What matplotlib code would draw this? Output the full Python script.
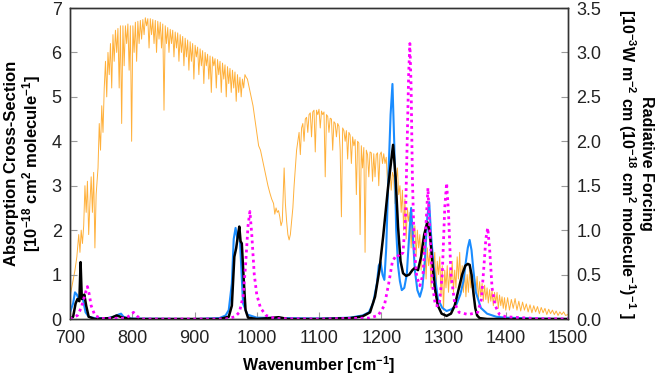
#!/usr/bin/env python3
import numpy as np
import matplotlib as mpl
mpl.use('Agg')
import matplotlib.pyplot as plt

plt.rcParams['font.family'] = ['Liberation Sans', 'DejaVu Sans']
plt.rcParams['mathtext.fontset'] = 'custom'
plt.rcParams['mathtext.rm'] = 'Liberation Sans'
plt.rcParams['mathtext.bf'] = 'Liberation Sans:bold'
plt.rcParams['mathtext.default'] = 'bf'

# radiative forcing spectrum (right axis)
rf_wn = [700, 704, 708, 711, 714, 716, 718, 720, 722, 724, 726, 728, 730, 732, 734, 736, 738, 740,
         742, 745, 747, 749, 751, 753, 755, 757, 759, 761, 763, 765, 767, 769, 771, 773, 775, 777,
         779, 781, 783, 785, 787, 789, 791, 793, 795, 797, 799, 801, 803, 805, 807, 809, 811, 813,
         815, 817, 819, 821, 823, 825, 827, 829, 831, 833, 835, 837, 839, 841, 843, 845, 847, 849,
         851, 853, 855, 857, 859, 861, 863, 865, 867, 869, 871, 873, 875, 877, 879, 881, 883, 885,
         887, 889, 891, 893, 895, 897, 899, 901, 903, 905, 907, 909, 911, 913, 915, 917, 919, 921,
         923, 925, 927, 929, 931, 933, 935, 937, 939, 941, 943, 945, 947, 949, 951, 953, 955, 957,
         959, 961, 963, 965, 967, 969, 971, 973, 975, 977, 979, 981, 983, 985, 988, 991, 994, 997,
         1000, 1003, 1006, 1009, 1012, 1015, 1018, 1021, 1024, 1027, 1029, 1031, 1033, 1035, 1037,
         1039, 1041, 1043, 1044, 1046, 1048, 1050, 1052, 1054, 1056, 1058, 1060, 1062, 1064, 1066,
         1068, 1070, 1072, 1074, 1076, 1078, 1080, 1082, 1084, 1086, 1088, 1090, 1092, 1094, 1096,
         1098, 1100, 1102, 1104, 1106, 1108, 1110, 1112, 1114, 1116, 1118, 1120, 1122, 1124, 1126,
         1128, 1130, 1132, 1134, 1136, 1138, 1140, 1142, 1144, 1146, 1148, 1150, 1152, 1154, 1156,
         1158, 1160, 1162, 1164, 1166, 1168, 1170, 1172, 1174, 1176, 1178, 1180, 1182, 1184, 1186,
         1188, 1190, 1192, 1194, 1196, 1198, 1200, 1202, 1204, 1206, 1208, 1210, 1212, 1214, 1216,
         1218, 1220, 1222, 1224, 1226, 1228, 1230, 1232, 1234, 1236, 1238, 1240, 1242, 1244, 1246,
         1248, 1250, 1252, 1254, 1256, 1258, 1260, 1262, 1264, 1266, 1268, 1270, 1272, 1274, 1276,
         1278, 1280, 1282, 1284, 1286, 1288, 1290, 1292, 1294, 1296, 1298, 1300, 1302, 1304, 1306,
         1308, 1310, 1312, 1314, 1316, 1318, 1320, 1322, 1324, 1326, 1328, 1330, 1332, 1334, 1336,
         1338, 1340, 1342, 1344, 1346, 1348, 1350, 1352, 1354, 1356, 1358, 1360, 1362, 1364, 1366,
         1368, 1370, 1372, 1374, 1376, 1378, 1380, 1382, 1384, 1386, 1388, 1390, 1392, 1394, 1396,
         1398, 1400, 1403, 1406, 1409, 1412, 1415, 1418, 1421, 1424, 1427, 1430, 1433, 1436, 1439,
         1442, 1445, 1448, 1451, 1454, 1457, 1460, 1463, 1466, 1469, 1472, 1475, 1478, 1481, 1484,
         1487, 1490, 1493, 1496, 1500]
rf = [0.25, 0.4, 0.55, 0.7, 0.95, 0.75, 1.0, 0.85, 1.05, 1.5, 1.2, 1.55, 0.95, 1.3, 1.6, 1.2, 1.65, 0.8,
      1.4, 1.7, 2.2, 1.9, 2.4, 2.1, 2.6, 2.9, 2.5, 3.0, 2.75, 3.1, 2.6, 3.2, 2.9, 3.25, 3.0, 3.27,
      2.6, 3.3, 2.2, 3.3, 2.85, 3.3, 3.1, 3.32, 2.8, 3.3, 2.0, 3.3, 3.0, 3.34, 2.9, 3.35, 3.1, 3.36,
      3.15, 3.37, 3.2, 3.39, 3.3, 3.38, 3.05, 3.38, 3.2, 3.37, 3.1, 3.36, 3.0, 3.35, 3.15, 3.34, 3.05, 3.32,
      2.35, 3.3, 3.1, 3.28, 3.0, 3.26, 3.1, 3.25, 2.95, 3.23, 3.05, 3.22, 2.9, 3.2, 3.0, 3.18, 2.85, 3.16,
      2.95, 3.14, 2.8, 3.12, 2.9, 3.1, 2.7, 3.08, 2.95, 3.06, 2.75, 3.04, 2.85, 3.02, 2.65, 3.0, 2.85, 2.98,
      2.7, 2.96, 2.55, 2.95, 2.85, 2.93, 2.6, 2.92, 2.75, 2.9, 2.55, 2.88, 2.7, 2.86, 2.5, 2.84, 2.65, 2.82,
      2.55, 2.8, 2.6, 2.78, 2.45, 2.75, 2.55, 2.72, 2.5, 2.7, 2.6, 2.75, 2.72, 2.7, 2.6, 2.5, 2.4, 2.25,
      2.1, 1.95, 1.9, 1.8, 1.7, 1.6, 1.5, 1.42, 1.35, 1.3, 1.18, 1.25, 1.2, 1.22, 1.15,
      1.05, 1.1, 1.5, 1.7, 1.3, 1.1, 0.95, 0.89, 0.95, 1.1, 1.25, 1.5, 1.7, 1.9, 2.0,
      2.1, 1.85, 2.15, 2.2, 2.0, 2.25, 2.27, 2.1, 2.3, 2.32, 2.05, 2.33, 2.35, 1.88, 2.35,
      2.3, 2.36, 2.15, 2.34, 2.3, 2.33, 1.6, 2.3, 2.28, 2.1, 2.26, 2.25, 1.9, 2.22, 2.2,
      2.05, 2.2, 2.17, 1.9, 1.15, 2.15, 2.12, 2.0, 2.12, 1.8, 2.1, 2.07, 1.75, 2.05, 1.95,
      2.02, 1.4, 2.0, 1.98, 0.95, 1.95, 1.7, 1.93, 0.75, 1.9, 1.85, 1.6, 1.88, 1.87, 1.55,
      1.86, 1.6, 1.85, 1.87, 1.5, 1.85, 1.88, 1.75, 1.86, 1.75, 1.82, 1.55, 1.75, 1.7, 1.45,
      1.65, 1.6, 1.3, 1.55, 1.7, 1.4, 1.5, 1.2, 1.45, 1.0, 1.35, 0.9, 1.25, 1.1, 1.2,
      0.8, 1.1, 0.95, 1.05, 0.7, 1.0, 0.8, 0.95, 0.55, 0.9, 0.75, 0.85, 0.45, 0.8, 0.6,
      0.75, 0.35, 0.7, 0.55, 0.75, 0.3, 0.65, 0.5, 0.7, 0.25, 0.6, 0.1, 0.55, 0.35, 0.6,
      0.3, 0.55, 0.4, 0.65, 0.3, 0.55, 0.35, 0.7, 0.45, 0.75, 0.35, 0.6, 0.3, 0.55, 0.25,
      0.5, 0.3, 0.55, 0.35, 0.5, 0.25, 0.45, 0.3, 0.48, 0.22, 0.42, 0.25, 0.4, 0.2, 0.38,
      0.22, 0.35, 0.18, 0.33, 0.2, 0.32, 0.15, 0.3, 0.18, 0.3, 0.12, 0.27, 0.15, 0.25, 0.12,
      0.24, 0.1, 0.24, 0.1, 0.22, 0.12, 0.23, 0.1, 0.2, 0.09, 0.19, 0.1, 0.17, 0.08, 0.16,
      0.07, 0.15, 0.08, 0.14, 0.06, 0.13, 0.07, 0.12, 0.05, 0.11, 0.06, 0.1, 0.05, 0.09, 0.04,
      0.08, 0.05, 0.08, 0.04, 0.05]

# absorption cross-sections (left axis)
blue_wn = [700, 705, 708, 711, 714, 717, 720, 725, 730, 740, 760, 770, 778, 782, 786, 795,
           900, 940, 950, 955, 960, 963, 966, 969, 972, 975, 978, 985, 1000, 1100,
           1150, 1170, 1180, 1187, 1193, 1196, 1199, 1202, 1205, 1208, 1211, 1215, 1218,
           1221, 1224, 1227, 1230, 1233, 1237, 1241, 1245, 1248, 1251, 1254, 1258, 1262,
           1266, 1270, 1274, 1277, 1280, 1284, 1291, 1298, 1305, 1313, 1320, 1327, 1332,
           1336, 1339, 1342, 1345, 1348, 1352, 1360, 1370, 1385, 1400, 1450, 1500]
blue = [0.15, 0.35, 0.6, 0.55, 0.45, 0.55, 0.5, 0.15, 0.05, 0.02, 0.02, 0.05, 0.1, 0.12, 0.05, 0.01,
        0.0, 0.02, 0.08, 0.2, 0.8, 1.8, 2.05, 1.8, 2.05, 1.2, 0.35, 0.1, 0.03, 0.01,
        0.03, 0.08, 0.15, 0.36, 0.8, 1.2, 1.28, 1.0, 0.88, 1.6, 3.0, 4.6, 5.29,
        3.9, 2.0, 1.2, 0.85, 0.65, 0.7, 1.0, 1.9, 2.5, 1.8, 1.1, 0.65, 0.5,
        0.7, 1.3, 2.3, 2.63, 1.9, 1.2, 0.45, 0.25, 0.18, 0.22, 0.3, 0.55, 0.85,
        1.3, 1.6, 1.78, 1.55, 1.1, 0.6, 0.25, 0.12, 0.05, 0.03, 0.01, 0.0]

black_wn = [700, 705, 709, 712, 715, 717, 719, 721, 723, 726, 730, 740, 765, 775, 785, 800,
            940, 955, 960, 964, 967, 970, 972, 974, 976, 979, 982, 986, 1000, 1020, 1035, 1050,
            1100, 1150, 1170, 1182, 1190, 1197, 1203, 1211, 1219, 1223, 1227, 1231, 1235,
            1240, 1245, 1250, 1254, 1259, 1264, 1269, 1274, 1278, 1282, 1286, 1291, 1297,
            1305, 1312, 1318, 1324, 1330, 1335, 1339, 1342, 1345, 1348, 1351, 1354, 1358,
            1370, 1500]
black = [0.0, 0.05, 0.35, 0.45, 0.4, 1.28, 0.45, 0.5, 0.55, 0.3, 0.05, 0.0, 0.02, 0.08, 0.03, 0.0,
         0.0, 0.05, 0.3, 1.4, 1.6, 1.9, 2.08, 1.75, 1.7, 0.9, 0.2, 0.03, 0.0, 0.02, 0.04, 0.0,
         0.0, 0.02, 0.06, 0.15, 0.5, 1.1, 1.85, 2.97, 3.92, 3.2, 2.07, 1.3, 1.03,
         0.97, 1.0, 1.1, 1.15, 1.1, 1.4, 1.9, 2.18, 1.95, 1.3, 0.7, 0.3, 0.12,
         0.07, 0.12, 0.3, 0.65, 1.0, 1.2, 1.24, 1.22, 1.0, 0.6, 0.25, 0.08, 0.02,
         0.0, 0.0]

magenta_wn = [700, 712, 718, 722, 725, 728, 731, 734, 740, 750, 790, 796, 802, 808, 815,
              950, 965, 972, 978, 982, 986, 989, 992, 996, 1000, 1006, 1015, 1030, 1100,
              1180, 1195, 1205, 1212, 1218, 1225, 1230, 1235, 1239, 1242, 1244, 1246, 1248,
              1250, 1253, 1257, 1262, 1267, 1271, 1275, 1278, 1282, 1287, 1293, 1298, 1302,
              1305, 1308, 1312, 1318, 1325, 1340, 1355, 1361, 1365, 1368, 1371, 1374, 1378,
              1383, 1390, 1400, 1450, 1500]
magenta = [0.0, 0.08, 0.25, 0.45, 0.6, 0.73, 0.55, 0.3, 0.08, 0.01, 0.02, 0.08, 0.15, 0.06, 0.0,
           0.0, 0.05, 0.15, 0.5, 1.2, 2.1, 2.42, 1.9, 1.0, 0.55, 0.25, 0.08, 0.01, 0.0,
           0.02, 0.08, 0.3, 0.8, 1.3, 1.45, 1.4, 1.5, 2.3, 4.2, 5.5, 6.2, 5.2,
           3.2, 1.6, 0.95, 0.75, 1.0, 1.9, 2.95, 2.0, 0.8, 0.3, 0.3, 1.0, 2.5,
           3.06, 2.4, 1.0, 0.35, 0.15, 0.1, 0.15, 0.45, 1.2, 1.8, 2.05, 1.6, 0.7,
           0.3, 0.1, 0.05, 0.01, 0.0]

fig = plt.figure(figsize=(6.61, 3.84), dpi=100)
ax1 = fig.add_axes([70/661, 1 - 319/384, 498/661, 311/384])
ax2 = ax1.twinx()
ax1.set_zorder(ax2.get_zorder() + 1)
ax1.patch.set_visible(False)

ax2.plot(rf_wn, rf, color='#FFA319', lw=0.7, alpha=0.85)
ax1.plot(blue_wn, blue, color='#1A8CFF', lw=1.5)
ax1.plot(black_wn, black, color='black', lw=1.8)
ax1.plot(magenta_wn, magenta, color='#FF00FF', lw=2, ls=(0, (1, 1.3)))

ax1.set_xlim(700, 1500)
ax1.set_ylim(0, 7)
ax2.set_ylim(0, 3.5)
ax1.set_xticks(range(700, 1501, 100))
ax1.set_yticks(range(0, 8))
ax2.set_yticks(np.arange(0, 3.51, 0.5))
ax2.set_yticklabels(['%.1f' % v for v in np.arange(0, 3.51, 0.5)])

for a in (ax1, ax2):
    a.tick_params(direction='in', length=5, color='#999999', labelsize=13, labelcolor='#222222')
    for s in a.spines.values():
        s.set_color('#333333')
        s.set_linewidth(1)
ax1.tick_params(axis='x', pad=8)
ax1.tick_params(axis='y', pad=6)
ax2.tick_params(axis='y', pad=6)

ax1.set_xlabel('Wavenumber [cm$^{-1}$]', fontsize=11.5, fontweight='bold', labelpad=5)
ax1.set_ylabel('Absorption Cross-Section\n[10$^{-18}$ cm$^{2}$ molecule$^{-1}$]',
               fontsize=12, fontweight='bold', linespacing=1.1, labelpad=6)
ax2.set_ylabel('Radiative Forcing\n[10$^{-3}$W m$^{-2}$ cm (10$^{-18}$ cm$^{2}$ molecule$^{-1}$)$^{-1}$ ]',
               fontsize=11.5, fontweight='bold', rotation=270, linespacing=1.1, labelpad=38)

fig.savefig('out.png', dpi=100)
